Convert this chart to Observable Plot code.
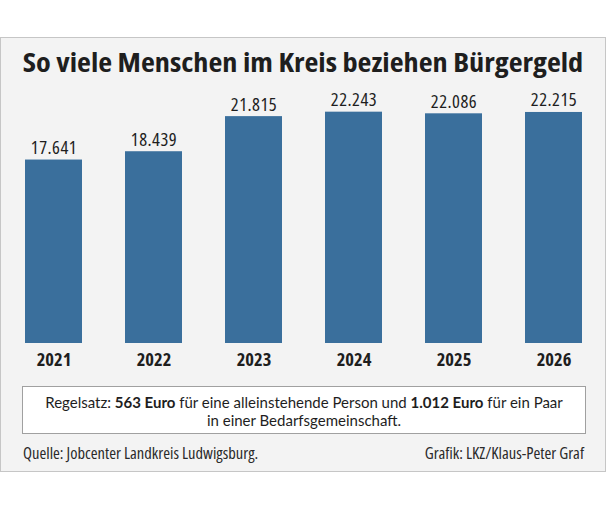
<!DOCTYPE html>
<html><head><meta charset="utf-8">
<script src="https://cdn.jsdelivr.net/npm/d3@7"></script>
<script src="https://cdn.jsdelivr.net/npm/@observablehq/plot@0.6"></script>
<style>
  html,body{margin:0;padding:0;background:#fff;}
  body{position:relative;width:609px;height:510px;font-family:"Open Sans",sans-serif;color:#1e1e1e;}
  #frame{position:absolute;left:0;top:37px;width:606px;height:435px;box-sizing:border-box;border:1px solid #c6c6c6;background:#f3f3f3;}
  #title{position:absolute;left:0;top:49px;width:606px;text-align:center;font-size:26.5px;line-height:26.5px;font-weight:700;font-stretch:75%;white-space:nowrap;color:#1e1e1e;transform:scaleX(1.143);transform-origin:303px 50%;}
  #chart{position:absolute;left:0;top:82px;}
  #chart svg{overflow:visible;}
  #chart g[aria-label="text"] text{font-stretch:75%;letter-spacing:0.5px;}
  #chart g[aria-label="x-axis tick label"] text{font-stretch:75%;}
  #note{position:absolute;left:22px;top:386px;width:564px;height:48px;box-sizing:border-box;border:1px solid #a0a0a0;background:#fff;text-align:center;font-family:Lato,sans-serif;font-size:15px;line-height:18px;padding-top:6px;white-space:nowrap;color:#1e1e1e;}
  #note b{font-weight:700;}
  .foot{position:absolute;top:444.6px;font-size:16.5px;line-height:16.5px;font-stretch:75%;white-space:nowrap;color:#2a2a2a;}
  #src{left:23px;}
  #credit{right:25px;}
</style>
</head><body>
<div id="frame"></div>
<div id="title">So viele Menschen im Kreis beziehen Bürgergeld</div>
<div id="chart"></div>
<div id="note">Regelsatz: <b>563 Euro</b> für eine alleinstehende Person und <b>1.012 Euro</b> für ein Paar<br>in einer Bedarfsgemeinschaft.</div>
<div class="foot" id="src">Quelle: Jobcenter Landkreis Ludwigsburg.</div>
<div class="foot" id="credit">Grafik: LKZ/Klaus-Peter Graf</div>
<script>
const years = ["2021", "2022", "2023", "2024", "2025", "2026"];
const recipients = [17641, 18439, 21815, 22243, 22086, 22215];
const valueLabels = ["17.641", "18.439", "21.815", "22.243", "22.086", "22.215"];

const data = years.map((y, i) => ({year: y, value: recipients[i], label: valueLabels[i]}));

const chart = Plot.plot({
  width: 609,
  height: 300,
  marginLeft: 23,
  marginRight: 24,
  marginTop: 1,
  marginBottom: 39,
  style: {fontFamily: "'Open Sans', sans-serif", color: "#1e1e1e", background: "transparent", overflow: "visible"},
  x: {domain: years, paddingInner: 0.425, paddingOuter: 0, axis: null},
  y: {domain: [0, 25000], axis: null},
  marks: [
    Plot.barY(data, {x: "year", y: "value", fill: "#3a6f9c"}),
    Plot.text(data, {x: "year", y: "value", text: "label", dy: -6, lineAnchor: "bottom", fontSize: 18.5, fill: "#1e1e1e"}),
    Plot.axisX({tickSize: 0, tickPadding: 9, fontSize: 18.5, fontWeight: 700, label: null, fill: "#1e1e1e"})
  ]
});
document.getElementById("chart").appendChild(chart);
</script>
</body></html>
